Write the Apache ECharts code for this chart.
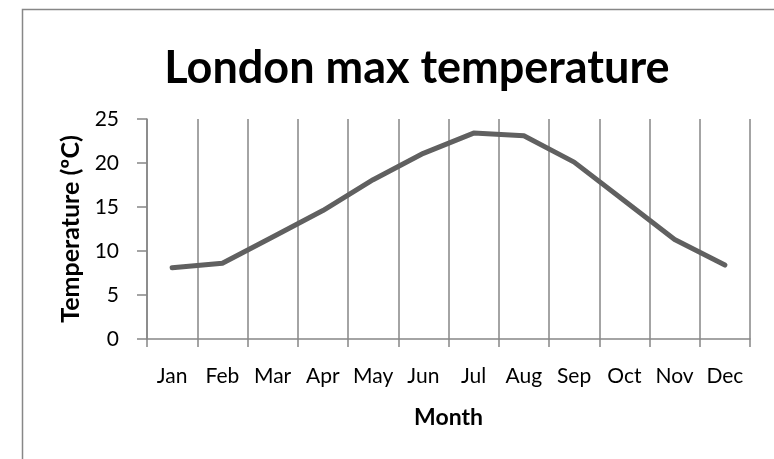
<!DOCTYPE html>
<html>
<head>
<meta charset="utf-8">
<script src="https://cdn.jsdelivr.net/npm/echarts@6/dist/echarts.min.js"></script>
<style>html,body{margin:0;padding:0;background:#fff}#c{width:774px;height:459px}</style>
</head>
<body>
<div id="c"></div>
<script>
var months = ['Jan','Feb','Mar','Apr','May','Jun','Jul','Aug','Sep','Oct','Nov','Dec'];
var maxTemp = [8.1, 8.6, 11.6, 14.6, 18.1, 21.1, 23.4, 23.1, 20.1, 15.7, 11.3, 8.4];
var yTicks = [0, 5, 10, 15, 20, 25];
var titleText = 'London max temperature';
var yName = 'Temperature (ºC)';
var xName = 'Month';

var FONT = 'Lato';
var chart = echarts.init(document.getElementById('c'), null, {renderer: 'canvas'});
chart.setOption({
  animation: false,
  backgroundColor: '#fff',
  graphic: [{
    type: 'rect', left: 20, top: 7, z: -1,
    shape: {width: 800, height: 500},
    style: {fill: 'none', stroke: '#878787', lineWidth: 1.5}
  }],
  title: {
    text: titleText, left: 412, top: 41, textAlign: 'center',
    textStyle: {fontFamily: FONT, fontWeight: 'bold', fontSize: 45, color: '#000'}
  },
  grid: {left: 147, right: 24, top: 119, bottom: 120},
  xAxis: {
    type: 'category', data: months, boundaryGap: true,
    name: xName, nameLocation: 'middle', nameGap: 67,
    nameTextStyle: {fontFamily: FONT, fontWeight: 'bold', fontSize: 23, color: '#000'},
    axisLine: {lineStyle: {color: '#868686', width: 1.5}},
    axisTick: {show: true, length: 8, lineStyle: {color: '#868686', width: 1.5}},
    splitLine: {show: true, lineStyle: {color: '#868686', width: 1.5}},
    axisLabel: {fontFamily: FONT, fontSize: 21, color: '#000', margin: 27, interval: 0}
  },
  yAxis: {
    type: 'value', min: 0, max: 25, interval: 5,
    name: yName, nameLocation: 'middle', nameGap: 61, nameRotate: 90,
    nameTextStyle: {fontFamily: FONT, fontWeight: 'bold', fontSize: 25, color: '#000'},
    axisLine: {show: true, lineStyle: {color: '#868686', width: 1.5}},
    axisTick: {show: true, length: 10, lineStyle: {color: '#868686', width: 1.5}},
    splitLine: {show: false},
    axisLabel: {fontFamily: FONT, fontSize: 21, color: '#000', margin: 28,
      formatter: function (v) { return yTicks.indexOf(v) >= 0 ? String(v) : ''; }}
  },
  series: [{
    type: 'line', data: maxTemp, symbol: 'none',
    lineStyle: {color: '#606060', width: 5, cap: 'round', join: 'round'}
  }]
});
</script>
</body>
</html>
